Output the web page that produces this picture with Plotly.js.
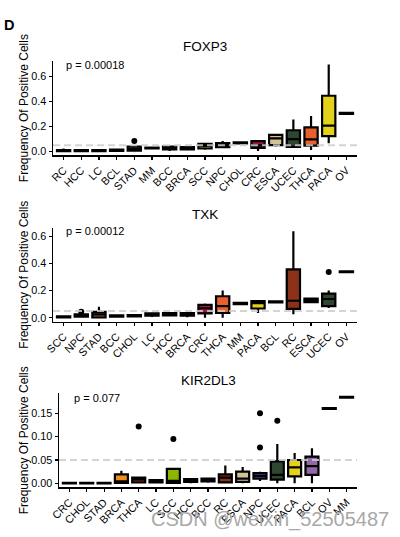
<!DOCTYPE html>
<html>
<head>
<meta charset="utf-8">
<script src="https://cdn.plot.ly/plotly-3.0.1.min.js"></script>
<style>
html,body{margin:0;padding:0;background:#fff;}
#chart{width:400px;height:537px;}
</style>
</head>
<body>
<div id="chart"></div>
<script>
// ---------- DATA ----------
// Panel 1: FOXP3
const cats1 = ['RC','HCC','LC','BCL','STAD','MM','BCC','BRCA','SCC','NPC','CHOL','CRC','ESCA','UCEC','THCA','PACA','OV'];
const q1_1  = [0.003,0.003,0.004,0.006,0.008,0.025,0.018,0.018,0.025,0.035,0.066,0.030,0.052,0.038,0.048,0.124,0.300];
const med1  = [0.008,0.007,0.008,0.010,0.020,0.028,0.030,0.026,0.045,0.050,0.070,0.050,0.105,0.100,0.098,0.206,0.304];
const q3_1  = [0.012,0.012,0.013,0.016,0.040,0.032,0.040,0.036,0.062,0.068,0.074,0.083,0.133,0.170,0.193,0.444,0.308];
const lo1   = [0.000,0.000,0.002,0.003,0.000,0.025,0.005,0.010,0.015,0.030,0.066,0.005,0.040,0.030,0.013,0.066,0.300];
const hi1   = [0.025,0.015,0.016,0.020,0.045,0.032,0.048,0.040,0.065,0.085,0.074,0.085,0.140,0.255,0.283,0.693,0.308];
const outCat1 = ['STAD'];
const outVal1 = [0.085];

// Panel 2: TXK
const cats2 = ['SCC','NPC','STAD','BCC','CHOL','LC','HCC','BRCA','CRC','THCA','MM','PACA','BCL','RC','ESCA','UCEC','OV'];
const q1_2  = [0.002,0.008,0.002,0.008,0.010,0.015,0.018,0.015,0.032,0.035,0.100,0.068,0.112,0.065,0.115,0.086,0.335];
const med2  = [0.005,0.015,0.025,0.012,0.014,0.022,0.026,0.025,0.070,0.085,0.105,0.108,0.116,0.125,0.130,0.138,0.338];
const q3_2  = [0.010,0.025,0.043,0.018,0.020,0.032,0.035,0.035,0.095,0.158,0.110,0.122,0.120,0.355,0.140,0.178,0.341];
const lo2   = [0.000,0.002,0.000,0.005,0.007,0.005,0.012,0.003,0.000,0.000,0.100,0.035,0.112,0.025,0.110,0.072,0.335];
const hi2   = [0.012,0.030,0.080,0.020,0.022,0.040,0.040,0.040,0.105,0.200,0.110,0.125,0.120,0.635,0.145,0.200,0.341];
const outCat2 = ['NPC','UCEC'];
const outVal2 = [0.045,0.336];

// Panel 3: KIR2DL3
const cats3 = ['CRC','CHOL','STAD','BRCA','THCA','LC','SCC','HCC','BCC','RC','ESCA','NPC','UCEC','PACA','BCL','OV','MM'];
const q1_3  = [0.0000,0.0000,0.0000,0.001,0.002,0.002,0.001,0.003,0.004,0.002,0.003,0.010,0.008,0.015,0.018,0.1595,0.1835];
const med3  = [0.0005,0.0005,0.0005,0.004,0.008,0.004,0.005,0.006,0.007,0.012,0.010,0.016,0.018,0.034,0.037,0.1605,0.1845];
const q3_3  = [0.0010,0.0010,0.0010,0.019,0.012,0.007,0.031,0.009,0.010,0.019,0.025,0.022,0.047,0.050,0.057,0.1615,0.1855];
const lo3   = [0.0000,0.0000,0.0000,0.000,0.000,0.000,0.000,0.000,0.001,0.000,0.000,0.005,0.000,0.000,0.000,0.1595,0.1835];
const hi3   = [0.0010,0.0010,0.0010,0.027,0.014,0.008,0.033,0.010,0.011,0.038,0.035,0.025,0.084,0.065,0.075,0.1615,0.1855];
const outCat3 = ['THCA','SCC','NPC','NPC','UCEC'];
const outVal3 = [0.122,0.095,0.150,0.077,0.134];

const titles = ['FOXP3','TXK','KIR2DL3'];
const pvals  = ['p = 0.00018','p = 0.00012','p = 0.077'];
const threshold = 0.05;

// ---------- STYLE ----------
const palette = {
  RC:'#8B3219', HCC:'#4D6B8A', LC:'#6E8B3D', BCL:'#9467A7', STAD:'#8B5A2B',
  MM:'#5F9EA0', BCC:'#B07AA1', BRCA:'#F28E1C', SCC:'#8DB600', NPC:'#6A5ACD',
  CHOL:'#7F7F7F', CRC:'#A0143C', ESCA:'#D2C295', UCEC:'#2E4630', THCA:'#E8602C',
  PACA:'#E3D21A', OV:'#555555'
};
const W = 400, H = 537;
const px = x => x / W;
const py = y => 1 - y / H;

// panel pixel geometry [left, right, top, bottom]
const geo = [
  [53, 357, 61, 155.3],
  [53, 357, 227.7, 321.7],
  [59, 357, 393.3, 487.3]
];
const yranges = [[-0.029, 0.72], [-0.029, 0.662], [-0.0086, 0.193]];
const ytickvals = [[0,0.2,0.4,0.6],[0,0.2,0.4,0.6],[0,0.05,0.10,0.15]];
const ytickfmt = ['.1f','.1f','.2f'];

const panels = [
  {cats:cats1,q1:q1_1,med:med1,q3:q3_1,lo:lo1,hi:hi1,oc:outCat1,ov:outVal1},
  {cats:cats2,q1:q1_2,med:med2,q3:q3_2,lo:lo2,hi:hi2,oc:outCat2,ov:outVal2},
  {cats:cats3,q1:q1_3,med:med3,q3:q3_3,lo:lo3,hi:hi3,oc:outCat3,ov:outVal3}
];

const traces = [];
const layout = {
  width: W, height: H,
  margin: {l:0, r:0, t:0, b:0},
  paper_bgcolor: '#fff', plot_bgcolor: 'rgba(0,0,0,0)',
  font: {family: 'Liberation Sans, Arial, sans-serif', color: '#000'},
  showlegend: false,
  boxmode: 'overlay',
  shapes: [],
  annotations: []
};

panels.forEach((p, i) => {
  const n = i === 0 ? '' : String(i + 1);
  const xa = 'x' + n, ya = 'y' + n;
  const g = geo[i];
  p.cats.forEach((c, k) => {
    traces.push({
      type: 'box', xaxis: xa, yaxis: ya,
      x: [c], q1: [p.q1[k]], median: [p.med[k]], q3: [p.q3[k]],
      lowerfence: [p.lo[k]], upperfence: [p.hi[k]],
      fillcolor: palette[c],
      line: {color: '#000', width: 2.2},
      whiskerwidth: 0, width: 0.75,
      boxpoints: false, hoverinfo: 'skip', showlegend: false
    });
  });
  traces.push({
    type: 'scatter', mode: 'markers', xaxis: xa, yaxis: ya,
    x: p.oc, y: p.ov,
    marker: {color: '#000', size: 6},
    hoverinfo: 'skip', showlegend: false
  });

  layout['xaxis' + n] = {
    domain: [px(g[0]), px(g[1])],
    anchor: ya,
    type: 'category',
    categoryorder: 'array', categoryarray: p.cats,
    range: [-0.6, p.cats.length - 0.4],
    showline: true, linecolor: '#000', linewidth: 1.5,
    ticks: 'outside', ticklen: 3, tickwidth: 1.1, tickcolor: '#000',
    tickangle: -45, tickfont: {size: 10.8, color: '#000'},
    showgrid: false, zeroline: false, fixedrange: true
  };
  layout['yaxis' + n] = {
    domain: [py(g[3]), py(g[2])],
    anchor: xa,
    range: yranges[i],
    tickvals: ytickvals[i], tickformat: ytickfmt[i],
    showline: true, linecolor: '#000', linewidth: 1.5,
    ticks: 'outside', ticklen: 3, tickwidth: 1.1, tickcolor: '#000',
    tickfont: {size: 10.8, color: '#000'},
    showgrid: false, zeroline: false, fixedrange: true
  };

  layout.shapes.push({
    type: 'line', xref: xa + ' domain', x0: 0, x1: 1,
    yref: ya, y0: threshold, y1: threshold,
    line: {color: 'rgba(205,205,205,0.85)', width: 2, dash: '7px,4px'},
    layer: 'above'
  });

  const cy = (g[2] + g[3]) / 2;
  layout.annotations.push({
    text: titles[i], xref: 'paper', yref: 'paper',
    x: px((g[0] + g[1]) / 2), y: py([47, 214, 380][i]),
    xanchor: 'center', yanchor: 'middle', showarrow: false,
    font: {size: 13.5, color: '#000'}
  });
  layout.annotations.push({
    text: pvals[i], xref: 'paper', yref: 'paper',
    x: px([64, 64, 71.5][i]), y: py([65, 231, 397.7][i]),
    xanchor: 'left', yanchor: 'middle', showarrow: false,
    font: {size: 11, color: '#000'}
  });
  layout.annotations.push({
    text: 'Frequency Of Positive Cells', xref: 'paper', yref: 'paper',
    x: px(24), y: py(cy), textangle: -90,
    xanchor: 'center', yanchor: 'middle', showarrow: false,
    font: {size: 12, color: '#000'}
  });
});

layout.annotations.push({
  text: '<b>D</b>', xref: 'paper', yref: 'paper',
  x: px(1.5), y: py(25.5), xanchor: 'left', yanchor: 'middle', showarrow: false,
  font: {size: 14.5, color: '#000'}
});
layout.annotations.push({
  text: 'CSDN @weixin_52505487', xref: 'paper', yref: 'paper',
  x: px(270), y: py(519), xanchor: 'center', yanchor: 'middle', showarrow: false,
  font: {size: 20, color: '#a8a8a8'}
});

Plotly.newPlot('chart', traces, layout, {staticPlot: true, displayModeBar: false});
</script>
</body>
</html>
